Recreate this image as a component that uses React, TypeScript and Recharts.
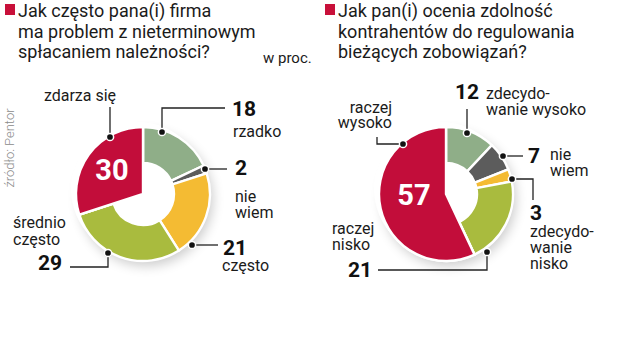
import React from "react";
import { PieChart, Pie, Cell } from "recharts";

// Lewy wykres: "Jak często pana(i) firma ma problem..."
const leftCategories = ["rzadko", "nie wiem", "często", "średnio często", "zdarza się"];
const leftValues = [18, 2, 21, 29, 30];
const leftLabelLines = [["rzadko"], ["nie", "wiem"], ["często"], ["średnio", "często"], ["zdarza się"]];

// Prawy wykres: "Jak pan(i) ocenia zdolność..."
const rightCategories = ["zdecydowanie wysoko", "nie wiem", "zdecydowanie nisko", "raczej nisko", "raczej wysoko"];
const rightValues = [12, 7, 3, 21, 57];
const rightLabelLines = [
  ["zdecydo-", "wanie wysoko"],
  ["nie", "wiem"],
  ["zdecydo-", "wanie", "nisko"],
  ["raczej", "nisko"],
  ["raczej", "wysoko"],
];

const sliceColors = ["#8fae88", "#5c5c5c", "#f4bb33", "#a9bb3e", "#c20d3a"];
const highlightIndex = 4;

const leftData = leftCategories.map((name, i) => ({ name, value: leftValues[i] }));
const rightData = rightCategories.map((name, i) => ({ name, value: rightValues[i] }));

type Anchor = "start" | "middle" | "end";
type LabelLayout = {
  dot: [number, number];
  path: [number, number][];
  num: [number, number, Anchor];
  text: [number, number, Anchor];
  lh: number;
};

// label placement, relative to the pie centre
const leftLayout: LabelLayout[] = [
  { dot: [19, -62], path: [[19, -62], [19, -86], [82, -86]], num: [89, -78, "start"], text: [90, -57, "start"], lh: 15 },
  { dot: [62, -25], path: [[62, -25], [84, -25]], num: [92, -19, "start"], text: [92, 8, "start"], lh: 16 },
  { dot: [49, 51], path: [[49, 51], [75, 51]], num: [80, 61, "start"], text: [79, 77, "start"], lh: 15 },
  { dot: [-35, 59], path: [[-35, 59], [-35, 73], [-73, 73]], num: [-81, 76, "end"], text: [-130, 34, "start"], lh: 17 },
  { dot: [-33, -57], path: [[-33, -57], [-33, -87]], num: [-31, -14, "middle"], text: [-63, -93, "middle"], lh: 15 },
];

const rightLayout: LabelLayout[] = [
  { dot: [21, -61], path: [[21, -61], [21, -85]], num: [9, -95, "start"], text: [40, -95, "start"], lh: 16 },
  { dot: [57, -38], path: [[57, -38], [77, -38]], num: [82, -31, "start"], text: [104, -34, "start"], lh: 16 },
  { dot: [66, -15], path: [[66, -15], [87, -15], [87, 6]], num: [84, 26, "start"], text: [84, 43, "start"], lh: 16 },
  { dot: [41, 58], path: [[41, 58], [41, 76], [-68, 76]], num: [-74, 83, "end"], text: [-114, 40, "start"], lh: 16 },
  { dot: [-43, -50], path: [[-43, -50], [-69, -50], [-69, -57]], num: [-32, 11, "middle"], text: [-54, -81, "end"], lh: 14.5 },
];

const FONT = "Roboto, 'Open Sans', sans-serif";
const INK = "#1b1b1b";

const makeLabel = (layout: LabelLayout[], lines: string[][]) => (props: any) => {
  const { cx, cy, index, value } = props;
  const l = layout[index];
  if (!l) return null;
  const big = index === highlightIndex;
  const pts = l.path.map(([x, y]) => `${cx + x},${cy + y}`).join(" ");
  return (
    <g key={`lab-${index}`}>
      <polyline points={pts} fill="none" stroke="#222" strokeWidth={1.3} />
      <circle cx={cx + l.dot[0]} cy={cy + l.dot[1]} r={3.6} fill="#111" stroke="#fff" strokeWidth={1.5} />
      <text
        x={cx + l.num[0]}
        y={cy + l.num[1]}
        textAnchor={l.num[2]}
        fontFamily={FONT}
        fontWeight={700}
        fontSize={big ? 29 : 21}
        fill={big ? "#fff" : "#111"}
      >
        {value}
      </text>
      <text x={cx + l.text[0]} y={cy + l.text[1]} textAnchor={l.text[2]} fontFamily={FONT} fontSize={16} fill={INK}>
        {lines[index].map((t, i) => (
          <tspan key={i} x={cx + l.text[0]} dy={i === 0 ? 0 : l.lh}>
            {t}
          </tspan>
        ))}
      </text>
    </g>
  );
};

const INNER = 31;
const OUTER = 67;

function Donut({ data, cx, cy, layout, lines }: any) {
  return (
    <>
      <Pie
        data={data}
        dataKey="value"
        cx={cx}
        cy={cy}
        innerRadius={INNER}
        outerRadius={OUTER}
        startAngle={90}
        endAngle={-270}
        stroke="#fff"
        strokeWidth={2.4}
        isAnimationActive={false}
        labelLine={false}
        label={false}
      >
        {data.map((_: any, i: number) => (
          <Cell key={i} fill={sliceColors[i]} />
        ))}
      </Pie>
      <Pie
        data={data}
        dataKey="value"
        cx={cx}
        cy={cy}
        innerRadius={0}
        outerRadius={OUTER}
        startAngle={90}
        endAngle={-270}
        isAnimationActive={false}
        labelLine={false}
        label={makeLabel(layout, lines)}
      >
        {data.map((_: any, i: number) => (
          <Cell
            key={i}
            fill={i === highlightIndex ? sliceColors[i] : "none"}
            stroke={i === highlightIndex ? "#fff" : "none"}
            strokeWidth={2.4}
          />
        ))}
      </Pie>
    </>
  );
}

const titleStyle: React.CSSProperties = {
  position: "absolute",
  top: 1,
  fontFamily: FONT,
  fontSize: 18,
  lineHeight: "20.5px",
  color: INK,
  whiteSpace: "nowrap",
};

const square = (left: number): React.CSSProperties => ({
  position: "absolute",
  left,
  top: 4,
  width: 10,
  height: 11,
  background: "#c8103a",
});

const shadow = (cx: number, cy: number): React.CSSProperties => ({
  position: "absolute",
  left: cx - OUTER,
  top: cy - OUTER,
  width: OUTER * 2,
  height: OUTER * 2,
  borderRadius: "50%",
  background: "#fff",
  boxShadow: "8px 10px 12px rgba(0,0,0,0.2)",
});

const C1: [number, number] = [138, 189];
const C2: [number, number] = [441, 189];

export default function App() {
  return (
    <div style={{ position: "absolute", left: 0, top: 0, width: 640, height: 361, background: "#fff", overflow: "hidden" }}>
      <div style={square(5)} />
      <div style={{ ...titleStyle, left: 18 }}>
        Jak często pana(i) firma
        <br />
        ma problem z nieterminowym
        <br />
        spłacaniem należności?
      </div>
      <div style={{ position: "absolute", left: 263, top: 49, fontFamily: FONT, fontSize: 15, color: INK }}>w proc.</div>

      <div style={square(325)} />
      <div style={{ ...titleStyle, left: 338 }}>
        Jak pan(i) ocenia zdolność
        <br />
        kontrahentów do regulowania
        <br />
        bieżących zobowiązań?
      </div>

      <div
        style={{
          position: "absolute",
          left: 9,
          top: 148,
          transform: "translate(-50%, -50%) rotate(-90deg)",
          fontFamily: FONT,
          fontSize: 13,
          fontWeight: 300,
          color: "#8a8a8a",
          whiteSpace: "nowrap",
        }}
      >
        źródło: Pentor
      </div>

      <div style={shadow(C1[0], C1[1])} />
      <div style={shadow(C2[0], C2[1])} />

      <div style={{ position: "absolute", left: 0, top: 0 }}>
        <PieChart width={640} height={361}>
          {Donut({ data: leftData, cx: C1[0], cy: C1[1], layout: leftLayout, lines: leftLabelLines })}
          {Donut({ data: rightData, cx: C2[0], cy: C2[1], layout: rightLayout, lines: rightLabelLines })}
        </PieChart>
      </div>
    </div>
  );
}
